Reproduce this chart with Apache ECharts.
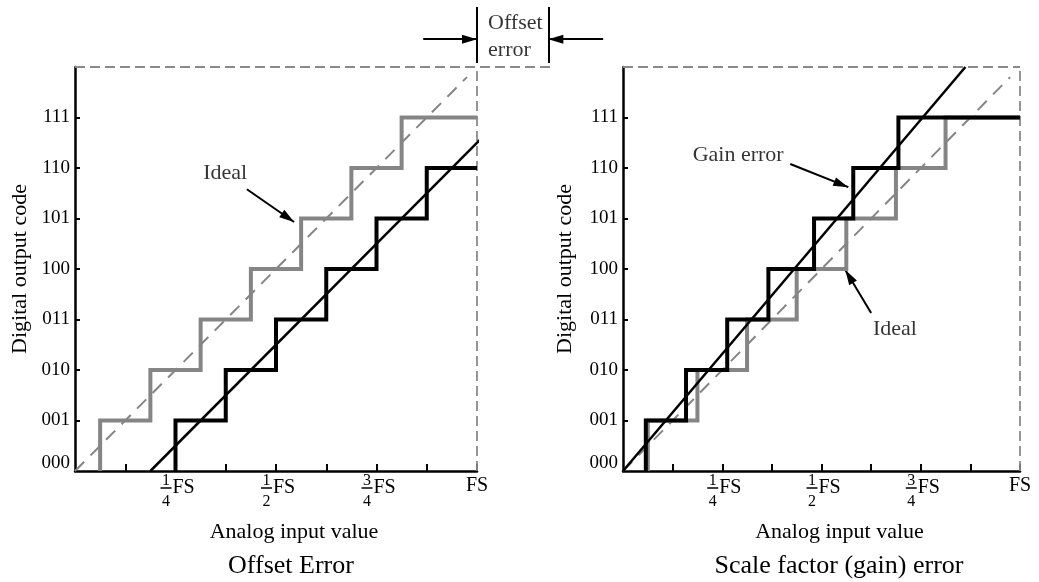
<!DOCTYPE html>
<html>
<head>
<meta charset="utf-8">
<script src="https://cdn.jsdelivr.net/npm/echarts@6/dist/echarts.min.js"></script>
<style>
  html, body { margin: 0; padding: 0; background: #fff; }
  #chart { width: 1039px; height: 582px; }
</style>
</head>
<body>
<div id="chart"></div>
<script>
// ---- data (input in units of FS/8, output in code steps) ----
const codeLabels = ['000', '001', '010', '011', '100', '101', '110', '111'];
const codeTicks = [1, 2, 3, 4, 5, 6, 7];
const inputTicks = [1, 2, 3, 4, 5, 6, 7, 8];
const inputLabelValues = [2, 4, 6, 8];
const inputLabelNum = ['1', '1', '3', ''];
const inputLabelDen = ['4', '2', '4', ''];

// input values where the output steps up to codes 001, 010, ...
const idealEdges = [0.5, 1.5, 2.5, 3.5, 4.5, 5.5, 6.5];
const offsetEdges = [2, 3, 4, 5, 6, 7];
const gainEdges = [0.46, 1.27, 2.1, 2.93, 3.85, 4.64, 5.55];

const idealLine = [[0, 0], [7.8, 7.8]];
const offsetLine = [[1.5, 0], [9.5, 8]];
const gainLine = [[0, 0], [6.9, 8]];
const fullScale = 8;
const offsetMarks = [8, 9.42];

// ---- styles ----
const FONT = '"Liberation Serif", "DejaVu Serif", "Times New Roman", serif';
const GRAY = '#858585';
const BLACK = '#000';
const arrowHead = 'path://M0,15L4.5,30L-4.5,30Z M-15,0L-15,0.01L-14.99,0Z M15,0L15,0.01L14.99,0Z';

function stairPoints(edges, xEnd) {
  const pts = [];
  edges.forEach((x, i) => { pts.push([x, i]); pts.push([x, i + 1]); });
  pts.push([xEnd, edges.length]);
  return pts;
}

function fmtInput(value) {
  const i = inputLabelValues.indexOf(value);
  if (i < 0) return '';
  if (!inputLabelNum[i]) return '{fsb|FS}';
  return '{s|}{num|' + inputLabelNum[i] + '}{e|}\n' +
         '{s|}{bar|}{fs|FS}\n' +
         '{s|}{den|' + inputLabelDen[i] + '}{e|}';
}

const inputRich = {
  s:   { width: 5, lineHeight: 1 },
  e:   { width: 24, lineHeight: 1 },
  num: { fontFamily: FONT, fontSize: 16, color: BLACK, width: 11, align: 'center', lineHeight: 10 },
  bar: { width: 11, height: 1.5, lineHeight: 4, backgroundColor: BLACK },
  fs:  { fontFamily: FONT, fontSize: 20, color: BLACK, width: 24, align: 'left', lineHeight: 4 },
  den: { fontFamily: FONT, fontSize: 16, color: BLACK, width: 11, align: 'center', lineHeight: 24 },
  fsb: { fontFamily: FONT, fontSize: 20, color: BLACK, lineHeight: 20 }
};

function makeX(g) {
  return {
    type: 'value', gridIndex: g, min: 0, max: fullScale, interval: 1,
    axisLine: { show: true, onZero: false, lineStyle: { color: BLACK, width: 2.5 } },
    axisTick: { show: true, inside: true, length: 7, customValues: inputTicks,
                lineStyle: { color: BLACK, width: 2 } },
    splitLine: { show: false },
    axisLabel: { show: true, margin: 5, customValues: inputLabelValues,
                 formatter: fmtInput, rich: inputRich, color: BLACK, fontFamily: FONT },
    name: 'Analog input value', nameLocation: 'middle', nameGap: 50,
    nameTextStyle: { fontFamily: FONT, fontSize: 22, color: BLACK, padding: [0, 0, 0, 36] }
  };
}

function makeY(g, gap) {
  return {
    type: 'value', gridIndex: g, min: 0, max: fullScale, interval: 1,
    axisLine: { show: true, onZero: false, lineStyle: { color: BLACK, width: 2.5 } },
    axisTick: { show: true, inside: true, length: 5, customValues: codeTicks,
                lineStyle: { color: BLACK, width: 2 } },
    splitLine: { show: false },
    axisLabel: { show: true, margin: 5, customValues: codeLabels.map((_, i) => i),
                 fontFamily: FONT, fontSize: 19, color: BLACK, lineHeight: 16,
                 formatter: v => (v === 0 ? codeLabels[0] + '\n' : codeLabels[v]) },
    name: 'Digital output code', nameLocation: 'middle', nameGap: gap,
    nameTextStyle: { fontFamily: FONT, fontSize: 22, color: BLACK }
  };
}

function stairSeries(g, pts, color) {
  return { type: 'line', xAxisIndex: g, yAxisIndex: g, data: pts, clip: false, silent: true,
           symbol: 'none', lineStyle: { color: color, width: 4, join: 'miter', cap: 'butt' } };
}
function straightSeries(g, pts, color, width, dash) {
  return { type: 'line', xAxisIndex: g, yAxisIndex: g, data: pts, clip: false, silent: true,
           symbol: 'none', lineStyle: { color: color, width: width, type: dash || 'solid' } };
}
function segSeries(g, segs, style) {
  return { type: 'lines', coordinateSystem: 'cartesian2d', xAxisIndex: g, yAxisIndex: g,
           clip: false, silent: true, symbol: 'none',
           data: segs.map(c => ({ coords: c })),
           lineStyle: Object.assign({ opacity: 1 }, style) };
}
function arrowSeries(g, segs) {
  return { type: 'lines', coordinateSystem: 'cartesian2d', xAxisIndex: g, yAxisIndex: g,
           clip: false, silent: true, symbol: ['none', arrowHead], symbolSize: 30,
           data: segs.map(c => ({ coords: c })),
           lineStyle: { color: BLACK, width: 2, opacity: 1 } };
}
function noteSeries(g, notes) {
  return { type: 'scatter', xAxisIndex: g, yAxisIndex: g, clip: false, silent: true,
           symbolSize: 1, itemStyle: { color: 'transparent' },
           data: notes.map(n => ({ value: n.at, name: n.text,
                                   label: { align: n.align || 'center' } })),
           label: { show: true, position: 'inside', formatter: '{b}', verticalAlign: 'middle',
                    fontFamily: FONT, fontSize: 22, color: BLACK } };
}

const frameDash = { color: '#8a8a8a', width: 1.8, type: [10, 5] };
const idealDash = [13, 9];

const chart = echarts.init(document.getElementById('chart'), null, { renderer: 'canvas' });
chart.setOption({
  animation: false,
  backgroundColor: '#fff',
  grid: [
    { left: 75, top: 67, width: 402, height: 404 },
    { left: 623, top: 67, width: 397, height: 404 }
  ],
  xAxis: [makeX(0), makeX(1)],
  yAxis: [makeY(0, 44), makeY(1, 47)],
  series: [
    // Offset error panel
    segSeries(0, [[[fullScale, 0], [fullScale, fullScale]], [[0, fullScale], [offsetLine[1][0], fullScale]]], frameDash),
    stairSeries(0, stairPoints(idealEdges, fullScale), GRAY),
    straightSeries(0, idealLine, GRAY, 2, idealDash),
    stairSeries(0, stairPoints(offsetEdges, fullScale), BLACK),
    straightSeries(0, offsetLine, BLACK, 2.5),
    segSeries(0, offsetMarks.map(x => [[x, 8.08], [x, 9.19]]), { color: BLACK, width: 2 }),
    arrowSeries(0, [
      [[3.42, 5.58], [4.36, 4.93]],
      [[6.93, 8.55], [offsetMarks[0], 8.55]],
      [[10.51, 8.55], [offsetMarks[1], 8.55]]
    ]),
    noteSeries(0, [
      { text: 'Ideal', at: [2.99, 5.9] },
      { text: 'Offset', at: [8.22, 8.87], align: 'left' },
      { text: 'error', at: [8.22, 8.34], align: 'left' }
    ]),

    // Scale factor (gain) error panel
    segSeries(1, [[[fullScale, 0], [fullScale, fullScale]], [[0, fullScale], [fullScale, fullScale]]], frameDash),
    stairSeries(1, stairPoints(idealEdges, fullScale), GRAY),
    straightSeries(1, idealLine, GRAY, 2, idealDash),
    stairSeries(1, stairPoints(gainEdges, fullScale), BLACK),
    straightSeries(1, gainLine, BLACK, 2.5),
    arrowSeries(1, [
      [[3.37, 6.08], [4.54, 5.62]],
      [[5.0, 3.13], [4.48, 3.98]]
    ]),
    noteSeries(1, [
      { text: 'Gain error', at: [2.32, 6.26] },
      { text: 'Ideal', at: [5.48, 2.81] }
    ])
  ],
  graphic: [
    { type: 'text', x: 291, y: 566, silent: true,
      style: { text: 'Offset Error', font: '26px ' + FONT, fill: BLACK,
               align: 'center', verticalAlign: 'middle' } },
    { type: 'text', x: 839, y: 566, silent: true,
      style: { text: 'Scale factor (gain) error', font: '26px ' + FONT, fill: BLACK,
               align: 'center', verticalAlign: 'middle' } }
  ]
});
</script>
</body>
</html>
